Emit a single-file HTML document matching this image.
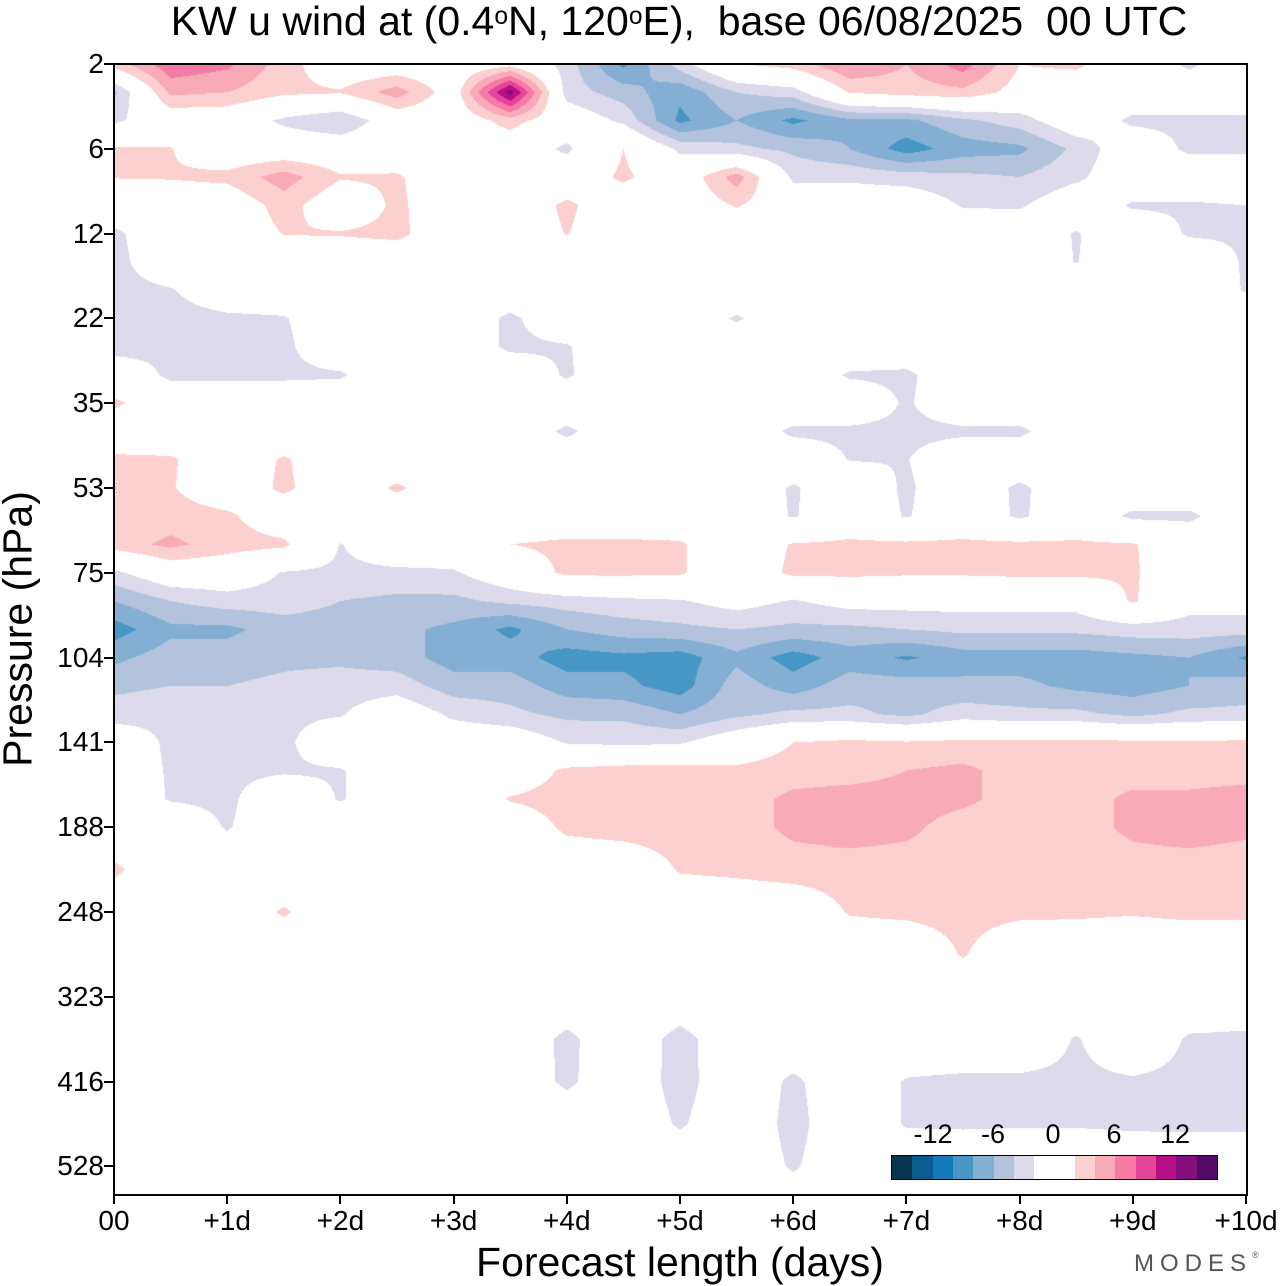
<!DOCTYPE html>
<html><head><meta charset="utf-8">
<style>
html,body{margin:0;padding:0;background:#fff;}
#root{position:relative;width:1280px;height:1286px;overflow:hidden;font-family:"Liberation Sans",Arial,sans-serif;color:#000;}
.t{position:absolute;white-space:nowrap;}
.yl{position:absolute;right:1176px;font-size:28px;line-height:28px;text-align:right;}
.xl{position:absolute;top:1206px;font-size:28px;line-height:30px;transform:translateX(-50%);}
.tick{position:absolute;background:#000;}
sup{font-size:60%;vertical-align:top;position:relative;top:-4px;}
</style></head>
<body>
<div id="root">
<div class="t" style="left:0;width:1358px;text-align:center;top:-2px;font-size:41px;line-height:46px;">KW u wind at (0.4<sup>o</sup>N, 120<sup>o</sup>E),&nbsp; base 06/08/2025&nbsp; 00 UTC</div>
<canvas id="plot" width="1132" height="1130" style="position:absolute;left:114px;top:64px;"></canvas>
<div style="position:absolute;left:113px;top:63px;width:1131px;height:1129px;border:2px solid #000;"></div>
<div id="axes"></div>
<div class="t" style="left:18px;top:629px;font-size:41px;line-height:41px;transform:translate(-50%,-50%) rotate(-90deg);">Pressure (hPa)</div>
<div class="t" style="left:680px;top:1239px;font-size:41px;line-height:46px;transform:translateX(-50%);">Forecast length (days)</div>
<div class="t" style="left:1134px;top:1250px;font-size:24px;letter-spacing:6px;color:#555;">MODES<span style="font-size:9px;vertical-align:top;letter-spacing:0">®</span></div>
<div id="cbar" style="position:absolute;left:891px;top:1155px;width:325px;height:23px;border:1px solid #000;display:flex;"></div>
<div class="t" style="left:933px;top:1119px;font-size:27px;transform:translateX(-50%);">-12</div>
<div class="t" style="left:993px;top:1119px;font-size:27px;transform:translateX(-50%);">-6</div>
<div class="t" style="left:1053px;top:1119px;font-size:27px;transform:translateX(-50%);">0</div>
<div class="t" style="left:1114px;top:1119px;font-size:27px;transform:translateX(-50%);">6</div>
<div class="t" style="left:1175px;top:1119px;font-size:27px;transform:translateX(-50%);">12</div>
</div>
<script>
const yTickLabels=["2","6","12","22","35","53","75","104","141","188","248","323","416","528"];
const xTickLabels=["00","+1d","+2d","+3d","+4d","+5d","+6d","+7d","+8d","+9d","+10d"];
const days=[0,0.5,1,1.5,2,2.5,3,3.5,4,4.5,5,5.5,6,6.5,7,7.5,8,8.5,9,9.5,10];
const levels=[0,0.333,0.667,1,1.333,1.667,2,2.333,2.667,3,3.333,3.667,4,4.333,4.667,5,5.333,5.667,6,6.333,6.667,7,7.333,7.667,8,8.333,8.667,9,9.5,10,10.5,11,11.5,12,12.5,13,13.5];
const uwind=[
[3,7.5,6.5,3,0,0,0,1,-3,-8.5,-3,2,3,6,4,7,2,2.5,0,-2.5,0],
[-4.5,4.5,4,2.5,2.2,5,0.5,13,-3,-5,-7.5,-4,-3,2.2,3,3.5,1,0,0,0,0],
[-2.5,0,0,-2.5,-4,0,0,3,0,-2.5,-8.5,-6,-8.5,-6.5,-6.5,-4.5,-3,0,-2.5,-2.5,-2.5],
[2.3,2.1,0,0,0,0,0,0,-2.5,2,-2.5,-3.5,-4.5,-6,-9,-7,-6.5,-3.5,0,-2.5,-2.5],
[2.1,2.2,2.6,5,2.2,2.3,0,0,0,2.5,0,5,-2.5,-2.5,-3,-3.5,-4,-2.5,0,0,0],
[0,0,0,3,0,2.5,0,0,2.5,0,0,2.2,0,0,0,-2.2,-2.3,0,-2.3,-2.3,-2],
[-2.5,0,0,2.1,2.2,2.6,0,0,2.1,0,0,0,0,0,0,0,0,-2.2,0,-2.3,-2.3],
[-2.8,0,0,0,0,0,0,0,0,0,0,0,0,0,0,0,0,-2.1,0,0,-2.3],
[-2.8,-2.2,0,0,0,0,0,0,0,0,0,0,0,0,0,0,0,0,0,0,-2.2],
[-4,-3,-2.5,-2.2,0,0,0,-2.5,0,0,0,-2.3,0,0,0,0,0,0,0,0,0],
[-3,-2.5,-2.5,-2.5,0,0,0,-2.5,-2.2,0,0,0,0,0,0,0,0,0,0,0,0],
[0,-2.5,-2.5,-2.5,-2.3,0,0,0,-2.3,0,0,0,0,-2.3,-2.5,0,0,0,0,0,0],
[2.5,0,0,0,0,0,0,0,0,0,0,0,0,0,-2.3,0,0,0,0,0,0],
[0,0,0,0,0,0,0,0,-2.5,0,0,0,-2.5,-2.5,-2.6,-2.5,-2.5,0,0,0,0],
[2.5,2.3,0,2.3,0,0,0,0,0,0,0,0,0,-2.1,-2.1,0,0,0,0,0,0],
[2.5,2.2,0,2.5,0,2.4,0,0,0,0,0,0,-2.3,0,-2.4,0,-2.5,0,0,0,0],
[2.5,3,2.5,0,0,0,0,0,0,0,0,0,-2.2,0,-2.2,0,-2.4,0,-2.5,-2.5,0],
[3,4.5,3,2.5,-2.1,0,0,2,2.5,2.5,2.3,0,2.2,2.5,2.5,2.5,2.5,2.4,2.2,0,0],
[-2.5,0,0,-2.2,-2.5,-2.5,-2.3,0,2.5,2.5,2.3,0,2.5,2.5,2.3,2.3,2.5,2.5,2.3,0,0],
[-6,-4,-3,-3,-4,-4.5,-4.5,-3.5,-3,-2.5,-2.2,-1,-2.2,-1,-1,-1,-1,-1,2.3,-1,-1],
[-9,-6.5,-6.5,-5,-5,-5.5,-6.5,-8.5,-6,-5,-4.5,-4,-4.5,-4.5,-4,-3.5,-3.5,-3.5,-3,-3,-3],
[-6.5,-5,-5,-4.5,-4.5,-5,-7,-7,-9,-8.5,-9,-6.5,-9,-7,-8.3,-7,-7,-7,-6.5,-6,-8.3],
[-4.5,-4,-4,-3.5,-3,-3,-5,-5,-7,-7.5,-9,-5,-7,-5,-5,-5.5,-5.5,-6.5,-7,-6,-5],
[-3,-2.5,-2.5,-2.5,-2.2,0,-2.5,-3.5,-4.5,-4.5,-6,-4.5,-3.5,-3.5,-4.5,-3,-3.5,-3.5,-4.5,-3.5,-3.5],
[0,-2.5,-2.5,-2.5,0,0,0,0,-2.2,-2.5,-2.3,0,2,2.5,2.2,2.5,2.5,2.6,2.4,2.2,2.5],
[0,-2.3,-2.5,-2.3,-2.2,0,0,0,2.5,3,3,2.5,3,3,4,4.5,3,3,3,3,3],
[0,-2.2,-2.5,0,-2.2,0,0,2.2,3,3,3,3,4.5,5,5,4.5,3,3,4.5,4.5,5],
[0,0,-2.2,0,0,0,0,0,2.5,3,3,3,4.5,5,4.5,3,3,3,4.5,5,4.5],
[2.5,0,0,0,0,0,0,0,0,0,2.2,2.5,3,3,3,3,3,3,3,3,2.8],
[0,0,0,2.3,0,0,0,0,0,0,0,0,0,2.2,2.5,2.7,2.5,2.4,2.2,2.5,2.5],
[0,0,0,0,0,0,0,0,0,0,0,0,0,0,0,2.2,0,0,0,0,0],
[0,0,0,0,0,0,0,0,0,0,0,0,0,0,0,0,0,0,0,0,0],
[0,0,0,0,0,0,0,0,-2.6,0,-2.9,0,0,0,0,0,0,-2.2,0,-2.3,-2.5],
[0,0,0,0,0,0,0,0,-2.5,0,-3,0,-2.5,0,-2.2,-2.5,-2.5,-2.5,-2.3,-2.6,-2.6],
[0,0,0,0,0,0,0,0,0,0,-2.3,0,-2.8,0,-2.2,-2.3,-2.2,-2.2,-2.4,-2.5,-2.5],
[0,0,0,0,0,0,0,0,0,0,0,0,-2.3,0,0,0,0,0,0,0,0],
[0,0,0,0,0,0,0,0,0,0,0,0,0,0,0,0,0,0,0,0,0]
];
const cbColors=["#08354f","#0b5b90","#1379b7","#4697c6","#84afd3","#b3c3de","#dcdaeb","#ffffff","#ffffff","#fcd0cf","#f9aab8","#f67aa6","#e5449b","#b70f86","#860d7d","#520a69"];
const PL=114,PT=64,PW=1132,PH=1130,DX=113.2,DY=84.8;
function xS(d){return PL+d*DX;}
function yS(t){return PT+t*DY;}
function colorIndex(v){let k=Math.floor(v/2)+8;if(k<0)k=0;if(k>15)k=15;return k;}
function hex(c){return [parseInt(c.substr(1,2),16),parseInt(c.substr(3,2),16),parseInt(c.substr(5,2),16)];}
const rgb=cbColors.map(hex);
const cv=document.getElementById('plot'),ctx=cv.getContext('2d');
const img=ctx.createImageData(PW,PH);
for(let py=0;py<PH;py++){
  const t=(py+0.5)/DY;
  let r=0;while(r<levels.length-2&&levels[r+1]<t)r++;
  let fy=(t-levels[r])/(levels[r+1]-levels[r]);fy=Math.max(0,Math.min(1,fy));
  for(let px=0;px<PW;px++){
    const d=(px+0.5)/DX;
    let c=0;while(c<days.length-2&&days[c+1]<d)c++;
    let fx=(d-days[c])/(days[c+1]-days[c]);fx=Math.max(0,Math.min(1,fx));
    const a=uwind[r][c],b=uwind[r][c+1],e=uwind[r+1][c],f=uwind[r+1][c+1];
    const v=(a*(1-fx)+b*fx)*(1-fy)+(e*(1-fx)+f*fx)*fy;
    const col=rgb[colorIndex(v)];const i=(py*PW+px)*4;
    img.data[i]=col[0];img.data[i+1]=col[1];img.data[i+2]=col[2];img.data[i+3]=255;
  }
}
ctx.putImageData(img,0,0);
const axes=document.getElementById('axes');
yTickLabels.forEach((lab,i)=>{
  const y=yS(i);
  const tk=document.createElement('div');tk.className='tick';
  
  
  tk.style.cssText='left:104px;top:'+(y-1)+'px;width:10px;height:2px;';axes.appendChild(tk);
  const l=document.createElement('div');l.className='yl';
  
  
  l.style.top=(y-14)+'px';l.textContent=lab;axes.appendChild(l);
});
xTickLabels.forEach((lab,i)=>{
  const x=xS(i);
  const tk=document.createElement('div');tk.className='tick';
  
  
  tk.style.cssText='left:'+(x-1)+'px;top:1194px;width:2px;height:10px;';axes.appendChild(tk);
  const l=document.createElement('div');l.className='xl';
  
  
  l.style.left=x+'px';l.textContent=lab;axes.appendChild(l);
});
const cb=document.getElementById('cbar');
cbColors.forEach(c=>{
  const s=document.createElement('div');
  
  
  s.style.cssText='flex:1;height:100%;background:'+c+';';cb.appendChild(s);
});
</script>
</body></html>
